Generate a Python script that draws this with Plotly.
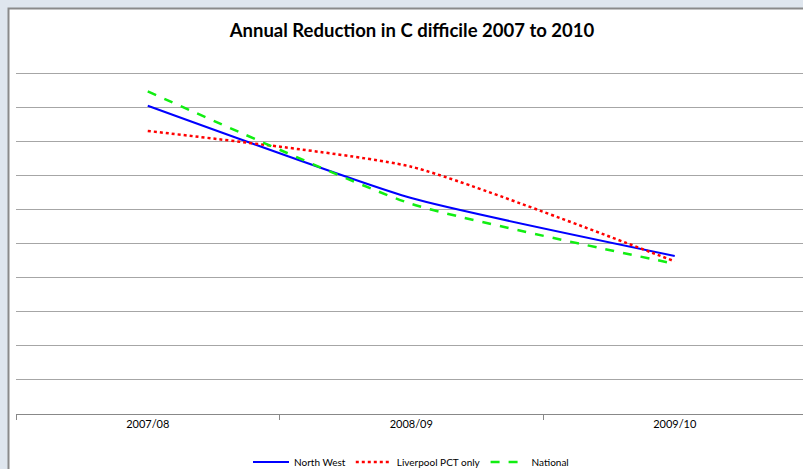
import plotly.graph_objects as go

categories = ["2007/08", "2008/09", "2009/10"]
north_west = [90.5, 63.4, 46.4]
liverpool_pct = [83.1, 72.6, 44.8]
national = [94.7, 61.7, 44.1]

W, H = 803, 469
ML, MT, MB = 16, 72, 55
plot_w = W - ML
plot_h = H - MT - MB
unit_px = 263.5
x_right = -0.5 + plot_w / unit_px

font_fam = "Lato, 'Liberation Sans', Arial, sans-serif"

fig = go.Figure()
fig.add_trace(go.Scatter(x=categories, y=north_west, name="North West", mode="lines",
                         line=dict(color="#0000ff", width=2, shape="spline", smoothing=0.5)))
fig.add_trace(go.Scatter(x=categories, y=liverpool_pct, name="Liverpool PCT only", mode="lines",
                         line=dict(color="#ff0000", width=2.5, dash="dot", shape="spline", smoothing=0.5)))
fig.add_trace(go.Scatter(x=categories, y=national, name="National", mode="lines",
                         line=dict(color="#11ee11", width=2.5, dash="dash", shape="spline", smoothing=0.5)))

# chart-area frame
fig.add_shape(type="rect", xref="paper", yref="paper",
              x0=(8.5 - ML) / plot_w, x1=1.1,
              y0=-0.5, y1=(H - MB - 8.5) / plot_h,
              fillcolor="white", line=dict(color="#8a8a8a", width=2), layer="below")

fig.update_layout(
    width=W, height=H,
    margin=dict(l=ML, r=0, t=MT, b=MB, autoexpand=False),
    paper_bgcolor="#dfe6ee",
    plot_bgcolor="white",
    title=dict(text="<b>Annual Reduction in C difficile 2007 to 2010</b>",
               x=412 / W, xref="container", xanchor="center",
               y=1 - 31 / H, yref="container", yanchor="middle",
               font=dict(family=font_fam, size=18.5, color="black")),
    showlegend=True,
    legend=dict(orientation="h", x=(411 - ML) / plot_w, xanchor="center",
                y=1 - 462 / H, yref="container", yanchor="middle",
                font=dict(family=font_fam, size=10, color="black"),
                bgcolor="rgba(0,0,0,0)", itemwidth=36, tracegroupgap=0),
    xaxis=dict(type="category", range=[-0.5, x_right],
               showgrid=False, showline=True, linecolor="#888888", linewidth=1,
               ticks="outside", tickson="boundaries", ticklen=5, tickcolor="#888888",
               tickfont=dict(family=font_fam, size=11, color="black"),
               zeroline=False, fixedrange=True),
    yaxis=dict(range=[0, 100.4], tickvals=[10, 20, 30, 40, 50, 60, 70, 80, 90, 100],
               showticklabels=False,
               showgrid=True, gridcolor="#a6a6a6", gridwidth=1,
               zeroline=False, showline=False, ticks="", fixedrange=True),
)

fig.write_html("out.html", config={"displayModeBar": False},
               post_script="document.body.style.margin='0px';document.body.style.overflow='hidden';")
